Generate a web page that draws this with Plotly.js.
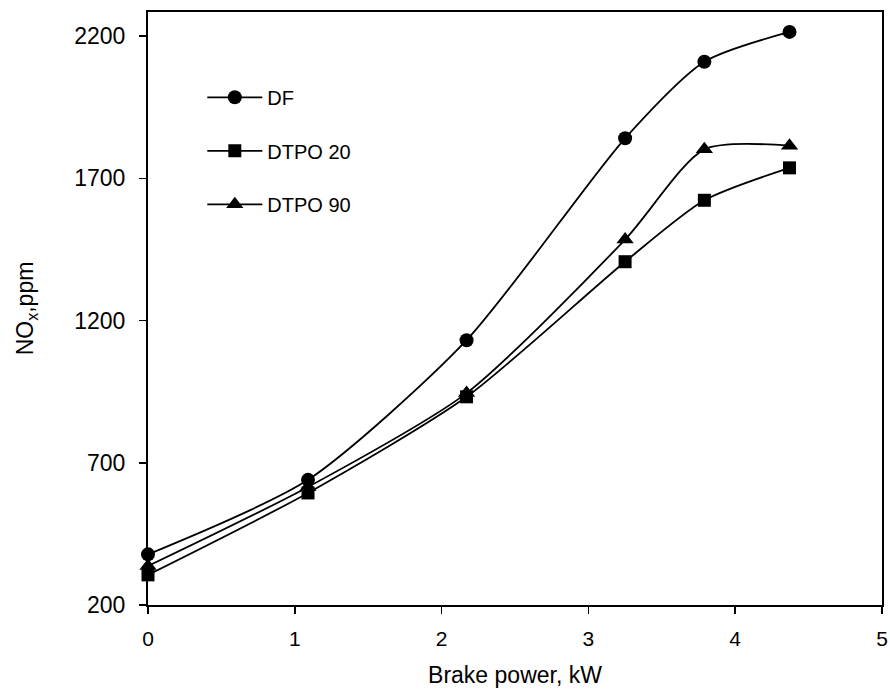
<!DOCTYPE html>
<html>
<head>
<meta charset="utf-8">
<script src="https://cdn.plot.ly/plotly-3.0.1.min.js"></script>
<style>html,body{margin:0;padding:0;background:#fff;}#chart{width:890px;height:694px;}</style>
</head>
<body>
<div id="chart"></div>
<script>
const brakePower = [0, 1.09, 2.17, 3.25, 3.79, 4.37];
const noxDF = [378, 640, 1131, 1841, 2110, 2215];
const noxDTPO20 = [306, 594, 932, 1407, 1623, 1737];
const noxDTPO90 = [337, 615, 945, 1485, 1802, 1815];
const seriesNames = ['DF', 'DTPO 20', 'DTPO 90'];
const xTicks = [0, 1, 2, 3, 4, 5];
const yTicks = [200, 700, 1200, 1700, 2200];

const FONT = 'Liberation Sans, Arial, sans-serif';
const symbols = ['circle', 'square', 'triangle-up'];
const sizes = [14, 13, 15];
const ys = [noxDF, noxDTPO20, noxDTPO90];

const traces = ys.map((y, i) => ({
  x: brakePower,
  y: y,
  name: seriesNames[i],
  legendgroup: 'g' + i,
  type: 'scatter',
  mode: 'lines+markers',
  line: {color: '#000', width: 1.8, shape: 'spline', smoothing: 0.7},
  marker: {symbol: symbols[i], size: sizes[i], color: '#000'},
  cliponaxis: false
}));

const layout = {
  width: 890, height: 694,
  margin: {l: 148, r: 8, t: 12, b: 89},
  paper_bgcolor: '#fff', plot_bgcolor: '#fff',
  font: {family: FONT, size: 20, color: '#000'},
  showlegend: true,
  legend: {
    x: 0.074, y: 0.889, xanchor: 'left', yanchor: 'top',
    bgcolor: 'rgba(0,0,0,0)', borderwidth: 0,
    traceorder: 'grouped', tracegroupgap: 24.5,
    itemwidth: 55,
    font: {family: FONT, size: 20, color: '#000'}
  },
  xaxis: {
    range: [0, 5], tickvals: xTicks, ticktext: xTicks.map(String),
    showgrid: false, zeroline: false,
    showline: true, linecolor: '#000', linewidth: 2, mirror: true,
    ticks: 'outside', ticklen: 7, tickwidth: 1.5, tickcolor: '#000',
    ticklabelstandoff: 7,
    tickfont: {family: FONT, size: 21, color: '#000'},
    title: {text: 'Brake power, kW', font: {family: FONT, size: 23, color: '#000'}, standoff: 18}
  },
  yaxis: {
    range: [200, 2285], tickvals: yTicks, ticktext: yTicks.map(String),
    showgrid: false, zeroline: false,
    showline: true, linecolor: '#000', linewidth: 2, mirror: true,
    ticks: 'outside', ticklen: 7, tickwidth: 1.5, tickcolor: '#000',
    ticklabelstandoff: 9,
    tickfont: {family: FONT, size: 23, color: '#000'},
    title: {text: 'NO<sub>x</sub>,ppm', font: {family: FONT, size: 23, color: '#000'}, standoff: 34}
  }
};

Plotly.newPlot('chart', traces, layout, {displayModeBar: false, staticPlot: true});
</script>
</body>
</html>
